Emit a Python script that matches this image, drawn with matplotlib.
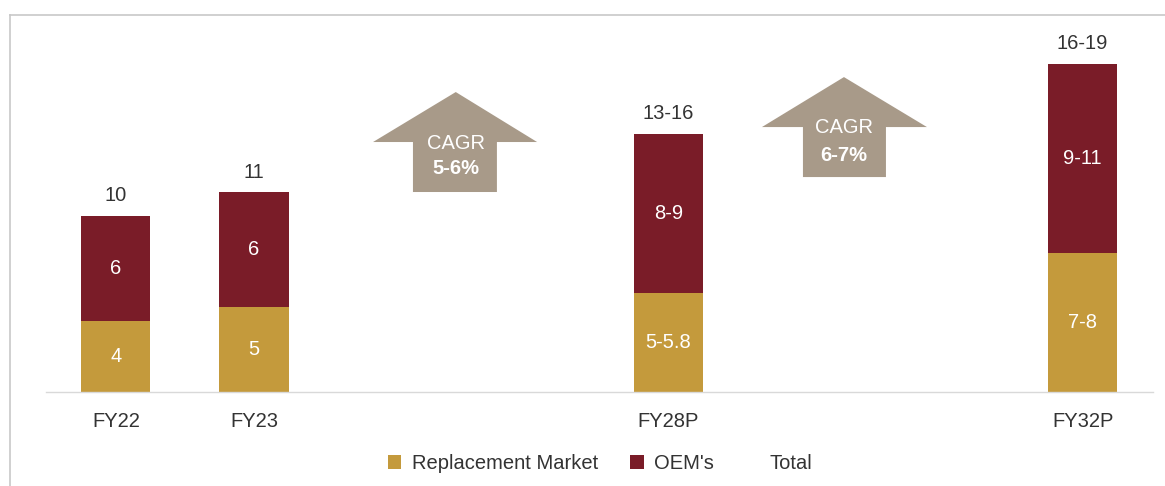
import matplotlib
matplotlib.use("Agg")
import matplotlib.pyplot as plt
from matplotlib.patches import Polygon, Patch
from matplotlib.lines import Line2D

# ---- data ----
categories = ["FY22", "FY23", "FY28P", "FY32P"]
x_pos = [0, 1, 4, 7]
replacement = [4.07, 4.86, 5.65, 7.9]
oem = [5.95, 6.5, 9.03, 10.76]
replacement_labels = ["4", "5", "5-5.8", "7-8"]
oem_labels = ["6", "6", "8-9", "9-11"]
total_labels = ["10", "11", "13-16", "16-19"]
cagr_labels = [("CAGR", "5-6%"), ("CAGR", "6-7%")]

GOLD = "#C49A3C"
RED = "#7A1C28"
TAN = "#A89A89"
TXT = "#333333"
FS = 14.5

plt.rcParams["font.family"] = ["Liberation Sans", "DejaVu Sans"]

fig = plt.figure(figsize=(11.65, 4.86), dpi=100)
ax = fig.add_axes([46 / 1165, (486 - 392.3) / 486, (1153 - 46) / 1165, (392.3 - 15) / 486])

W = 0.5
ax.bar(x_pos, replacement, width=W, color=GOLD, label="Replacement Market")
ax.bar(x_pos, oem, width=W, bottom=replacement, color=RED, label="OEM's")

for x, r, o, rl, ol, tl in zip(x_pos, replacement, oem, replacement_labels, oem_labels, total_labels):
    ax.text(x, r / 2, rl, ha="center", va="center", color="white", fontsize=FS)
    ax.text(x, r + o / 2, ol, ha="center", va="center", color="white", fontsize=FS)
    ax.annotate(tl, (x, r + o), xytext=(0, 10.5), textcoords="offset points",
                ha="center", va="baseline", color=TXT, fontsize=FS)

# CAGR arrows (annotation shapes)
arrows = [
    dict(tip=(2.461, 17.06), wing_y=14.22, wing=(1.862, 3.05), shaft=(2.151, 2.759), bottom=11.38,
         t1=14.16, t2=12.69),
    dict(tip=(5.272, 17.91), wing_y=15.07, wing=(4.678, 5.873), shaft=(4.975, 5.576), bottom=12.23,
         t1=15.02, t2=13.43),
]
for a, (l1, l2) in zip(arrows, cagr_labels):
    pts = [a["tip"], (a["wing"][1], a["wing_y"]), (a["shaft"][1], a["wing_y"]),
           (a["shaft"][1], a["bottom"]), (a["shaft"][0], a["bottom"]),
           (a["shaft"][0], a["wing_y"]), (a["wing"][0], a["wing_y"])]
    ax.add_patch(Polygon(pts, closed=True, facecolor=TAN, edgecolor="none", zorder=1))
    cx = a["tip"][0]
    ax.text(cx, a["t1"], l1, ha="center", va="center", color="white", fontsize=FS)
    ax.text(cx, a["t2"], l2, ha="center", va="center", color="white", fontsize=FS, fontweight="bold")

ax.set_xlim((46 - 115.9) / 138.1, (1153 - 115.9) / 138.1)
ax.set_ylim(0, (392.3 - 15) / 17.6)
ax.set_xticks(x_pos)
ax.set_xticklabels(categories, fontsize=FS, color=TXT)
ax.tick_params(axis="x", length=0, pad=14)
ax.set_yticks([])
for s in ["top", "left", "right"]:
    ax.spines[s].set_visible(False)
ax.spines["bottom"].set_color("#d9d9d9")
ax.spines["bottom"].set_linewidth(1.0)

# outer frame lines (left and top)
fig.add_artist(Line2D([9.5 / 1165, 9.5 / 1165], [0, (486 - 15) / 486], transform=fig.transFigure,
                      color="#c8c8c8", lw=1.2))
fig.add_artist(Line2D([9.5 / 1165, 1.0], [(486 - 15) / 486, (486 - 15) / 486], transform=fig.transFigure,
                      color="#c8c8c8", lw=1.2))

handles = [Patch(facecolor=GOLD, edgecolor="none"),
           Patch(facecolor=RED, edgecolor="none"),
           Patch(facecolor="none", edgecolor="none")]
leg = fig.legend(handles, ["Replacement Market", "OEM's", "Total"], loc="center",
                 bbox_to_anchor=(600 / 1165, (486 - 463.5) / 486), ncol=3, frameon=False,
                 fontsize=FS, handlelength=0.67, handleheight=0.67, handletextpad=0.5,
                 columnspacing=1.6, borderaxespad=0)
for t in leg.get_texts():
    t.set_color(TXT)

fig.savefig("out.png", dpi=100)
